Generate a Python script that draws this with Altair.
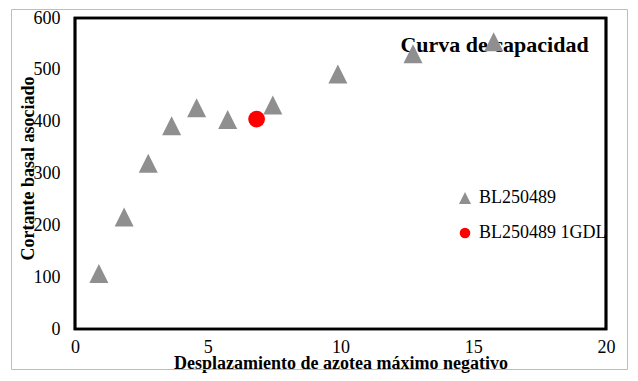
import altair as alt
import pandas as pd

# Data
serie_a = "BL250489"
serie_b = "BL250489 1GDL"
x_a = [0.90, 1.85, 2.76, 3.64, 4.58, 5.75, 7.45, 9.90, 12.73, 15.77]
y_a = [107, 216, 320, 392, 427, 404, 432, 492, 531, 554]
x_b = [6.84]
y_b = [405]
x_ticks = [0, 5, 10, 15, 20]
y_ticks = [0, 100, 200, 300, 400, 500, 600]
x_dom = [0, 20]
y_dom = [0, 600]
colors = ["#8f8f8f", "#ff0000"]

df_a = pd.DataFrame({"x": x_a, "y": y_a, "serie": serie_a})
df_b = pd.DataFrame({"x": x_b, "y": y_b, "serie": serie_b})

FONT = "Liberation Serif"
TRI = "M-1,1L0,-1L1,1Z"

W, H = 531, 311

xscale = alt.Scale(domain=x_dom, nice=False)
yscale = alt.Scale(domain=y_dom, nice=False)

one = pd.DataFrame({"k": [0]})

border = alt.Chart(one).mark_rect(fillOpacity=0, stroke="#bdbdbd", strokeWidth=1).encode(
    x=alt.value(-63.5), x2=alt.value(552.5), y=alt.value(-8.5), y2=alt.value(351.5)
)
frame = alt.Chart(one).mark_rect(fillOpacity=0, stroke="black", strokeWidth=2.7).encode(
    x=alt.value(0), x2=alt.value(W), y=alt.value(0), y2=alt.value(H)
)

title = alt.Chart(pd.DataFrame({"t": ["Curva de capacidad"]})).mark_text(
    font=FONT, fontSize=22, fontWeight="bold", color="black",
    align="center", baseline="alphabetic"
).encode(
    text="t:N", x=alt.value(419.5), y=alt.value(34)
)

xenc = alt.X("x:Q", scale=xscale,
             axis=alt.Axis(values=x_ticks, title="Desplazamiento de azotea máximo negativo",
                           titleX=265.5, titleY=39, titleBaseline="alphabetic",
                           titleAlign="center", labelPadding=9, labelFlush=False))
yenc = alt.Y("y:Q", scale=yscale,
             axis=alt.Axis(values=y_ticks, title="Cortante basal asociado",
                           titleX=-47, titleY=150, titleAlign="center",
                           titleBaseline="middle", titleAngle=-90, labelPadding=15))

pts_a = alt.Chart(df_a).mark_point(
    filled=True, opacity=1, strokeWidth=0, size=361, shape=TRI, color=colors[0]
).encode(x=xenc, y=yenc)
pts_b = alt.Chart(df_b).mark_point(
    filled=True, opacity=1, strokeWidth=0, size=283, shape="circle", color=colors[1]
).encode(x=xenc, y=yenc)

# legend drawn as marks
leg_sym_a = alt.Chart(pd.DataFrame({"s": [serie_a]})).mark_point(
    filled=True, opacity=1, strokeWidth=0, size=144, shape=TRI, color=colors[0]
).encode(x=alt.value(390), y=alt.value(180))
leg_sym_b = alt.Chart(pd.DataFrame({"s": [serie_b]})).mark_point(
    filled=True, opacity=1, strokeWidth=0, size=113, shape="circle", color=colors[1]
).encode(x=alt.value(390), y=alt.value(215))
leg_txt_a = alt.Chart(pd.DataFrame({"s": [serie_a]})).mark_text(
    font=FONT, fontSize=18, color="black", align="left", baseline="middle"
).encode(text="s:N", x=alt.value(404), y=alt.value(180))
leg_txt_b = alt.Chart(pd.DataFrame({"s": [serie_b]})).mark_text(
    font=FONT, fontSize=18, color="black", align="left", baseline="middle"
).encode(text="s:N", x=alt.value(404), y=alt.value(215))

chart = alt.layer(
    border, title, pts_a, pts_b, leg_sym_a, leg_sym_b, leg_txt_a, leg_txt_b, frame
).properties(
    width=W, height=H,
    padding={"left": 3, "top": 1, "right": 2, "bottom": 2},
).configure_view(
    stroke="black", strokeWidth=2.7
).configure_axis(
    grid=False, ticks=False, domain=False,
    labelFont=FONT, labelFontSize=18, labelColor="black",
    titleFont=FONT, titleFontSize=18, titleFontWeight="bold", titleColor="black",
)

chart.save("out.html", embed_options={"renderer": "svg", "actions": False})
